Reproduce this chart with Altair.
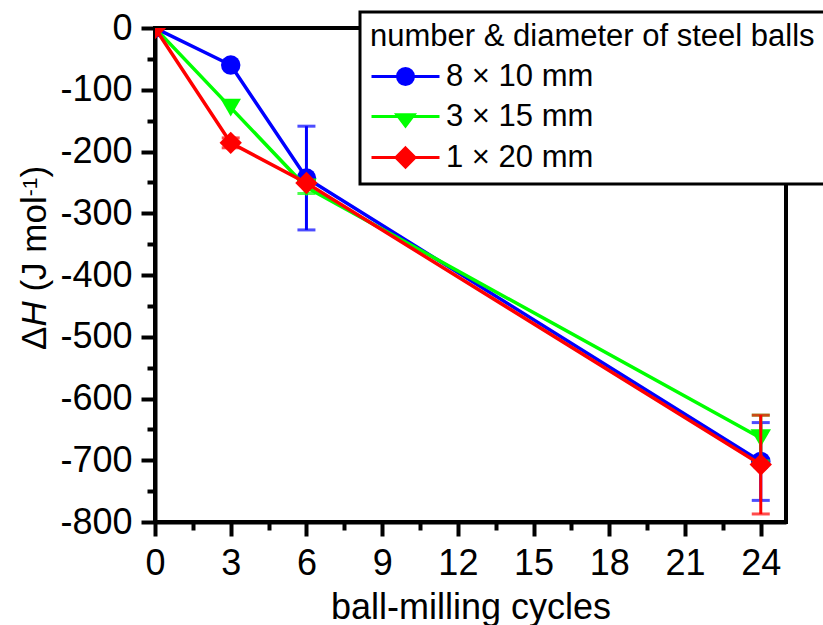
import altair as alt
import pandas as pd

# ---- data ----
cycles = [0, 3, 6, 24]
series_names = ["8 \u00d7 10 mm", "3 \u00d7 15 mm", "1 \u00d7 20 mm"]
dH_8x10 = [0, -60, -243, -702]
err_8x10 = [0, 0, 84, 63]
dH_3x15 = [0, -129, -258, -664]
err_3x15 = [0, 0, 10, 37]
dH_1x20 = [0, -186, -251, -707]
err_1x20 = [0, 8, 0, 80]

colors = ["#0000ff", "#00ff00", "#ff0000"]
shapes = ["circle", "triangle-down", "diamond"]
marker_sizes = [380, 420, 500]

x_ticks = [0, 3, 6, 9, 12, 15, 18, 21, 24]
x_minor = [1.5, 4.5, 7.5, 10.5, 13.5, 16.5, 19.5, 22.5]
y_ticks = [0, -100, -200, -300, -400, -500, -600, -700, -800]
y_minor = [-50, -150, -250, -350, -450, -550, -650, -750]

# legend symbols: line segment plus marker (unit = half of sqrt(symbolSize))
legend_paths = [
    "M-2,0L2,0M0.47,0A0.47,0.47,0,1,1,-0.47,0A0.47,0.47,0,1,1,0.47,0Z",
    "M-2,0L2,0M-0.5,-0.1L0.5,-0.1L0,0.56Z",
    "M-2,0L2,0M0,-0.56L0.56,0L0,0.56L-0.56,0Z",
]

rows = []
for name, ys, es in zip(series_names, [dH_8x10, dH_3x15, dH_1x20], [err_8x10, err_3x15, err_1x20]):
    for x, y, e in zip(cycles, ys, es):
        rows.append({"series": name, "cycles": x, "dH": y, "err": e, "lo": y - e, "hi": y + e})
df = pd.DataFrame(rows)

FONT = "Liberation Sans"
xscale = alt.Scale(domain=[0, 25], nice=False, zero=False)
yscale = alt.Scale(domain=[-800, 0], nice=False, zero=False)

major_x = alt.Axis(values=x_ticks, orient="bottom", title="ball-milling cycles",
                   titleFont=FONT, titleFontSize=36, titleFontWeight="normal", titleColor="black",
                   titlePadding=9,
                   labelFont=FONT, labelFontSize=36, labelColor="black", labelPadding=10,
                   labelFlush=False, labelOverlap=False, grid=False,
                   domainColor="black", domainWidth=4, tickColor="black", tickWidth=4, tickSize=14)
major_y = alt.Axis(values=y_ticks, orient="left", title=None,
                   labelFont=FONT, labelFontSize=36, labelColor="black", labelPadding=9,
                   labelExpr="'' + datum.value",
                   labelFlush=False, labelOverlap=False, grid=False,
                   domainColor="black", domainWidth=4, tickColor="black", tickWidth=4, tickSize=14)
minor_x = alt.Axis(values=x_minor, orient="bottom", title=None, labels=False, domain=False,
                   grid=False, tickColor="black", tickWidth=4, tickSize=8)
minor_y = alt.Axis(values=y_minor, orient="left", title=None, labels=False, domain=False,
                   grid=False, tickColor="black", tickWidth=4, tickSize=8)

leg = alt.Legend(title="number & diameter of steel balls", orient="none", legendX=205, legendY=-16,
                 titleFont=FONT, titleFontSize=31, titleFontWeight="normal", titleColor="black",
                 titleLimit=1000, titlePadding=5,
                 labelFont=FONT, labelFontSize=31, labelColor="black", labelLimit=1000, labelOffset=22,
                 symbolSize=1156, symbolStrokeWidth=3, symbolOpacity=1, symbolOffset=17,
                 rowPadding=6, padding=10, fillColor="white", strokeColor="black")

legend_layer = alt.Chart(df).mark_point(filled=True, opacity=0).encode(
    x=alt.X("cycles:Q", scale=xscale, axis=major_x),
    y=alt.Y("dH:Q", scale=yscale, axis=major_y),
    color=alt.Color("series:N", scale=alt.Scale(domain=series_names, range=colors), legend=leg),
    stroke=alt.Stroke("series:N", scale=alt.Scale(domain=series_names, range=colors), legend=leg),
    shape=alt.Shape("series:N", scale=alt.Scale(domain=series_names, range=legend_paths), legend=leg),
)

minor_layer = alt.Chart(df).mark_point(opacity=0).encode(
    x=alt.X("cycles:Q", scale=xscale, axis=minor_x),
    y=alt.Y("dH:Q", scale=yscale, axis=minor_y),
)

X = alt.X("cycles:Q", scale=xscale, axis=None)
series_layers = []
for name, c, s, sz in zip(series_names, colors, shapes, marker_sizes):
    base = alt.Chart(df).transform_filter(alt.datum.series == name)
    errbase = base.transform_filter(alt.datum.err > 0)
    series_layers.append(base.mark_line(color=c, strokeWidth=3.5, clip=True).encode(
        x=X, y=alt.Y("dH:Q", scale=yscale, axis=None)))
    series_layers.append(errbase.mark_rule(color=c, strokeWidth=3).encode(
        x=X, y=alt.Y("lo:Q", scale=yscale, axis=None), y2="hi:Q"))
    series_layers.append(errbase.mark_tick(color=c, thickness=3, size=18, orient="horizontal").encode(
        x=X, y=alt.Y("lo:Q", scale=yscale, axis=None)))
    series_layers.append(errbase.mark_tick(color=c, thickness=3, size=18, orient="horizontal").encode(
        x=X, y=alt.Y("hi:Q", scale=yscale, axis=None)))
    series_layers.append(base.mark_point(shape=s, filled=True, size=sz, color=c, opacity=1, clip=True).encode(
        x=X, y=alt.Y("dH:Q", scale=yscale, axis=None)))

# y-axis title pieces: ΔH (J mol^-1)
one = alt.Data(values=[{}])
def piece(txt, xpos, ypos, size=35, style="normal"):
    return alt.Chart(one).mark_text(text=txt, angle=270, align="left", baseline="alphabetic",
                                    font=FONT, fontSize=size, fontStyle=style, color="black").encode(
        x=alt.value(xpos), y=alt.value(ypos))

title_layers = [
    piece("\u0394", -109, 322),
    piece("H", -109, 298.6, style="italic"),
    piece("(J mol", -109, 263.6),
    piece("-1", -118, 168.3, size=21),
    piece(")", -109, 149.6),
]

chart = alt.layer(legend_layer, minor_layer, *series_layers, *title_layers).resolve_axis(
    x="independent", y="independent"
).properties(
    width=631, height=494,
    padding={"left": 155, "top": 28, "right": 37, "bottom": 103},
    autosize=alt.AutoSizeParams(type="none"),
    background="white",
).configure_view(stroke="black", strokeWidth=4).configure_legend(strokeWidth=3)

chart.save("out.html", embed_options={"renderer": "svg", "actions": False})
